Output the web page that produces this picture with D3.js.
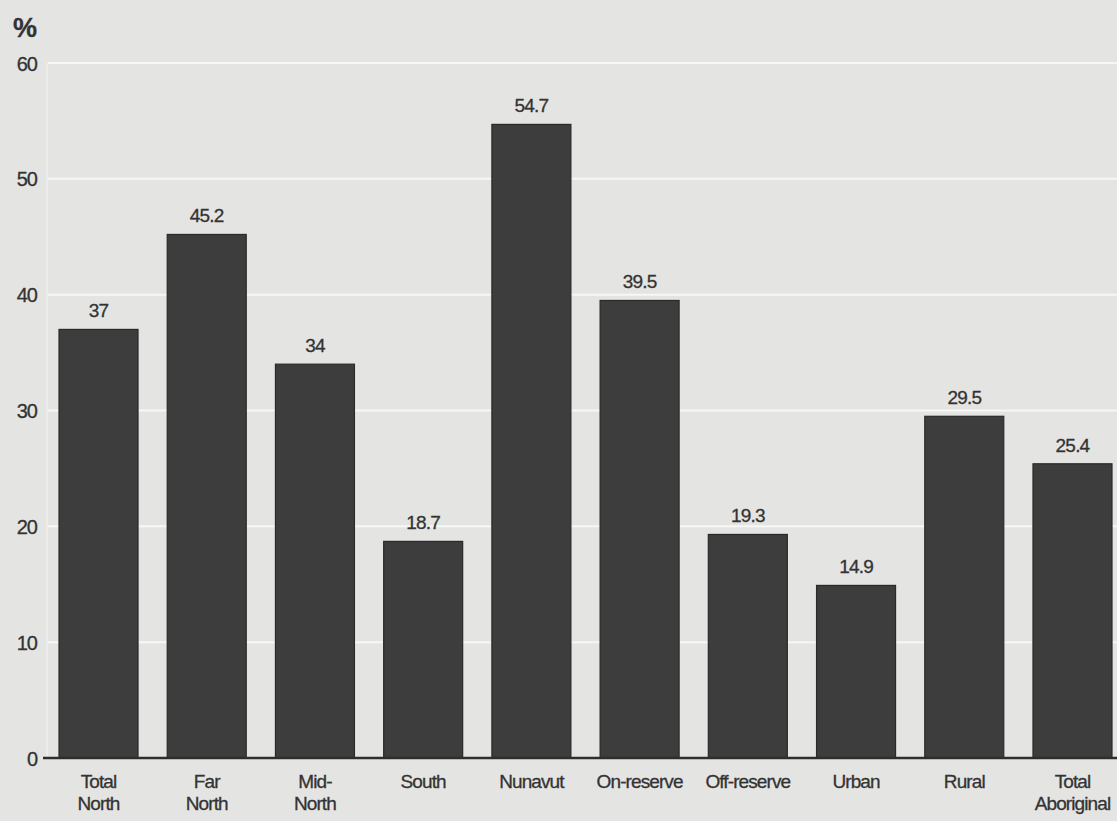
<!DOCTYPE html>
<html>
<head>
<meta charset="utf-8">
<script src="https://cdn.jsdelivr.net/npm/d3@7"></script>
<style>
  html, body { margin: 0; padding: 0; background: #e4e4e2; }
  svg text { font-family: 'Liberation Sans Narrow', 'Liberation Sans', Arial, sans-serif; fill: #333; stroke: #333; stroke-width: 0.3; }
</style>
</head>
<body>
<svg id="chart" width="1117" height="821"></svg>
<script>
const categories = ['Total North', 'Far North', 'Mid-North', 'South', 'Nunavut', 'On-reserve', 'Off-reserve', 'Urban', 'Rural', 'Total Aboriginal']
const labelLines = [['Total', 'North'], ['Far', 'North'], ['Mid-', 'North'], ['South'], ['Nunavut'], ['On-reserve'], ['Off-reserve'], ['Urban'], ['Rural'], ['Total', 'Aboriginal']]
const values = [37, 45.2, 34, 18.7, 54.7, 39.5, 19.3, 14.9, 29.5, 25.4]
const valueLabels = ['37', '45.2', '34', '18.7', '54.7', '39.5', '19.3', '14.9', '29.5', '25.4']
const yTicks = [0, 10, 20, 30, 40, 50, 60]

const width = 1117
const height = 821
const svg = d3.select('#chart')

let x = d3.scaleBand()
  .domain(categories)
  .range([44.4, 1126.6])
  .paddingInner(0.27)
  .paddingOuter(0.135)

let y = d3.scaleLinear()
  .domain([0, 60])
  .range([758, 63])

// background
svg.append('rect')
  .attr('width', width)
  .attr('height', height)
  .attr('fill', '#e4e4e2')

// gridlines
svg.append('g')
  .selectAll('line')
  .data(yTicks.filter(d => d > 0))
  .enter().append('line')
  .attr('x1', 48)
  .attr('x2', width)
  .attr('y1', d => y(d))
  .attr('y2', d => y(d))
  .attr('stroke', '#f7f7f5')
  .attr('stroke-width', 2)

// faint vertical line at left of plot
svg.append('line')
  .attr('x1', 47).attr('x2', 47)
  .attr('y1', y(60)).attr('y2', y(0))
  .attr('stroke', '#efefed')
  .attr('stroke-width', 1.5)

// y axis labels
let yAxis = d3.axisLeft(y).tickValues(yTicks).tickSize(0).tickPadding(0)
let yg = svg.append('g')
  .attr('transform', 'translate(37,0)')
  .call(yAxis)
yg.select('.domain').remove()
yg.selectAll('text')
  .attr('font-size', 20)
  .attr('letter-spacing', -1)
  .attr('dy', '0.35em')
  .attr('fill', '#333')
  .style('font-family', null)
yg.attr('font-family', null).attr('font-size', null)

svg.append('text')
  .attr('x', 13)
  .attr('y', 37)
  .attr('font-size', 27)
  .attr('font-weight', 'bold')
  .attr('letter-spacing', -1)
  .text('%')

// bars
svg.append('g')
  .selectAll('rect')
  .data(values)
  .enter().append('rect')
  .attr('x', (d, i) => x(categories[i]))
  .attr('y', d => y(d))
  .attr('width', x.bandwidth())
  .attr('height', d => y(0) - y(d))
  .attr('fill', '#3d3d3d')
  .attr('stroke', '#2a2a2a')
  .attr('stroke-width', 1.2)

// value labels
svg.append('g')
  .selectAll('text')
  .data(values)
  .enter().append('text')
  .attr('x', (d, i) => x(categories[i]) + x.bandwidth() / 2)
  .attr('y', d => y(d) - 12)
  .attr('text-anchor', 'middle')
  .attr('font-size', 19)
  .attr('letter-spacing', -0.8)
  .text((d, i) => valueLabels[i])

// baseline
svg.append('line')
  .attr('x1', 43)
  .attr('x2', width)
  .attr('y1', y(0))
  .attr('y2', y(0))
  .attr('stroke', '#2e2e2e')
  .attr('stroke-width', 2.5)

// category labels
let cat = svg.append('g')
  .selectAll('text')
  .data(categories)
  .enter().append('text')
  .attr('x', d => x(d) + x.bandwidth() / 2)
  .attr('y', 788)
  .attr('text-anchor', 'middle')
  .attr('font-size', 19)
  .attr('letter-spacing', -0.9)
cat.selectAll('tspan')
  .data((d, i) => labelLines[i])
  .enter().append('tspan')
  .attr('x', function () { return d3.select(this.parentNode).attr('x') })
  .attr('dy', (d, i) => i === 0 ? 0 : 22)
  .text(d => d)
</script>
</body>
</html>
